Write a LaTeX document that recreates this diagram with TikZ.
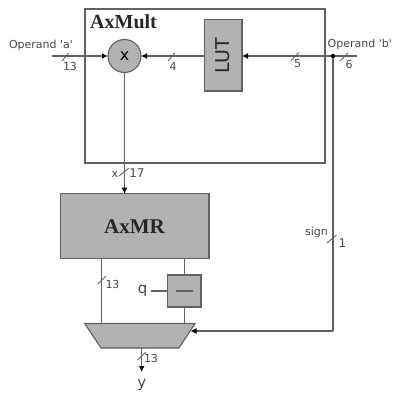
\documentclass[tikz,border=0pt]{standalone}
\usepackage{fontspec}
\setmainfont{DejaVu Sans}
\newfontfamily\plainfont{DejaVu Sans}
\newfontfamily\titleserif{Liberation Serif}
\usetikzlibrary{arrows.meta}
\definecolor{ln}{gray}{0.38}
\definecolor{fillg}{gray}{0.70}
\definecolor{txt}{gray}{0.28}
\tikzset{
  x=1pt,y=-1pt,
  wire/.style={draw=ln,line width=1.3pt},
  arrow/.style={wire,-{Latex[length=6pt,width=6pt,black]}},
  block/.style={draw=ln,fill=fillg,line width=1.1pt,inner sep=0pt,outer sep=0pt},
  lab/.style={text=txt,inner sep=0pt,font=\plainfont\fontsize{11}{13}\selectfont},
  biglab/.style={text=txt,inner sep=0pt,font=\fontsize{15}{17}\selectfont},
  title/.style={text=black!85,inner sep=0pt,font=\titleserif\bfseries\fontsize{20}{22}\selectfont},
  tick/.style={draw=ln,line width=0.9pt},
}
\begin{document}
\begin{tikzpicture}
\useasboundingbox (0,0) rectangle (392,394);
% frame
\node[draw=ln,line width=1.1pt,minimum width=240pt,minimum height=154pt,inner sep=0pt,outer sep=0pt,anchor=north west] (axmult) at (85,9) {};
\node[title,anchor=west] (axmultl) at (90,22) {AxMult};
% blocks
\node[block,circle,minimum size=33pt] (mul) at (124.5,56) {\fontsize{16}{18}\selectfont x};
\node[block,minimum width=37.5pt,minimum height=71.5pt,anchor=north west] (lut) at (204.5,19.5) {};
\node[biglab,text=black!85,rotate=90] (lutl) at (223,55.5) {\fontsize{19}{21}\selectfont LUT};
\node[block,minimum width=148.5pt,minimum height=64.5pt,anchor=north west] (axmr) at (60.5,193.7) {};
\node[title] (axmrl) at (134.5,227) {\fontsize{21}{23}\selectfont AxMR};
\node[block,minimum width=33.3pt,minimum height=32pt,anchor=north west] (neg) at (167.7,275) {};
\draw[block] (84.7,323.5) -- (195,323.5) -- (179,348) -- (101,348) -- cycle;
\node[inner sep=0pt,minimum size=0pt] (mux) at (140,335.7) {};
% free ends
\coordinate (ain) at (52,56);
\coordinate (bend) at (357,56);
\coordinate (lutr) at (lut.east);
\coordinate (dot) at (333,56);
\coordinate (corner) at (333,331);
\coordinate (muxin) at (190.5,331);
\coordinate (mulbot) at (124.5,72.5);
\coordinate (mrtop) at (124.5,193.7);
\coordinate (mrl) at (101.5,258.2);
\coordinate (muxl) at (101.5,323.5);
\coordinate (mrr) at (184.5,258.2);
\coordinate (negt) at (184.5,275);
\coordinate (negb) at (184.5,307);
\coordinate (muxr) at (184.5,323.5);
\coordinate (muxb) at (141.7,348);
\coordinate (yend) at (141.7,372);
% labels
\node[lab] (opa) at (41,45.5) {Operand 'a'};
\node[lab,anchor=west] (opb) at (327.5,44) {Operand 'b'};
\node[lab] (n13a) at (70,66) {13};
\node[lab] (n4) at (173,66) {4};
\node[lab] (n5) at (297.5,64) {5};
\node[lab] (n6) at (349,64) {6};
\node[lab] (xl) at (115,174.5) {x};
\node[lab,font=\fontsize{12}{14}\selectfont] (n17) at (137,173) {17};
\node[lab] (sign) at (316.5,232) {sign};
\node[lab,font=\fontsize{12}{14}\selectfont] (n1) at (342.5,243) {1};
\node[lab] (n13b) at (112.5,284.5) {13};
\node[lab] (n13c) at (151,358.5) {13};
\node[biglab] (q) at (142.7,291) {q};
\node[biglab] (y) at (141.7,385) {y};
\node[inner sep=0pt,minimum width=17pt,minimum height=1pt] (dash) at (184.3,291) {};
% connectors
\draw[arrow] (ain) -- (mul.west);
\draw[arrow] (lut.west|-mul) -- (mul.east);
\draw[arrow] (bend) -- (lutr|-dot);
\draw[arrow] (mulbot) -- (mrtop);
\draw[wire] (dot) -- (corner);
\draw[arrow] (corner) -- (muxin);
\draw[wire] (mrl) -- (muxl);
\draw[wire] (mrr) -- (negt);
\draw[wire] (negb) -- (muxr);
\draw[wire] (q.east)++(3pt,0) -- (neg.west);
\draw[wire] (dash.west) -- (dash.east);
\draw[arrow] (muxb) -- (yend);
\fill[black] (dot) circle (2.2pt);
% bus ticks
\draw[tick] (62,61) -- (68.5,53);
\draw[tick] (168,61) -- (175,53);
\draw[tick] (291,60.5) -- (299,52.5);
\draw[tick] (340,61) -- (348,53);
\draw[tick] (119,176) -- (129,168);
\draw[tick] (327,243) -- (336.5,235);
\draw[tick] (98,284) -- (106,276);
\draw[tick] (137.5,360) -- (146,352);
\end{tikzpicture}
\end{document}
